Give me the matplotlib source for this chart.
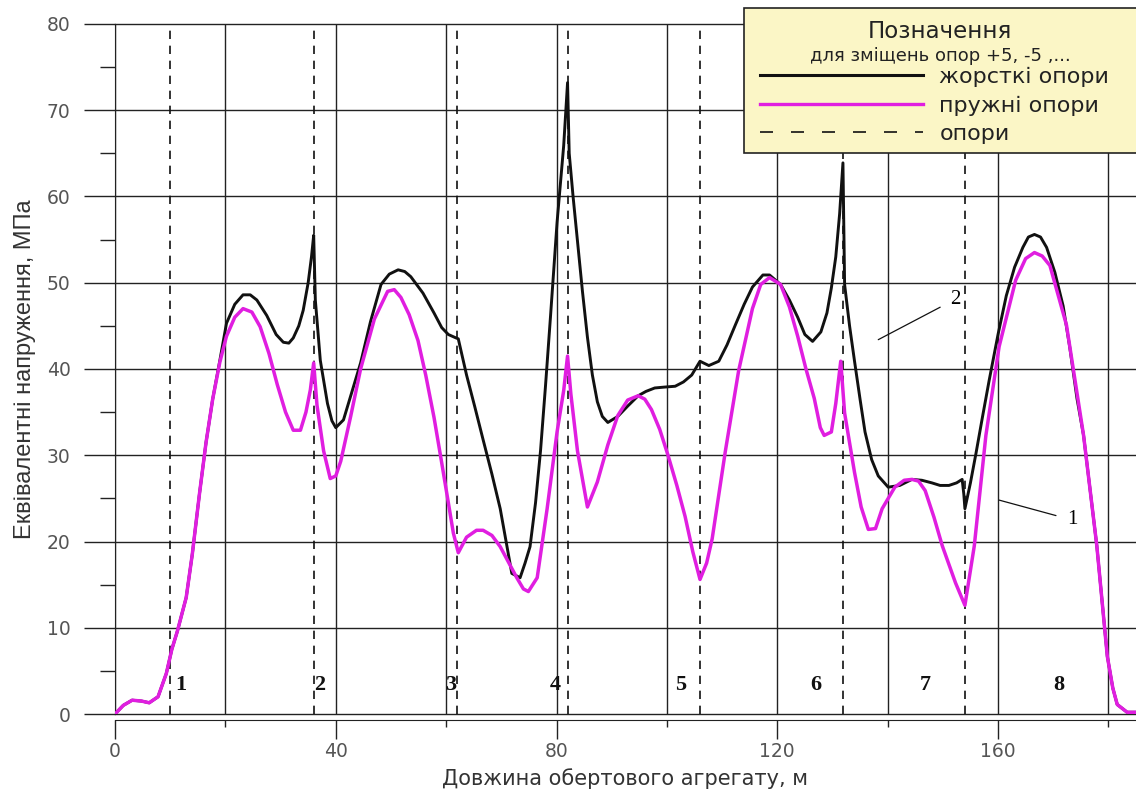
import matplotlib
matplotlib.use('Agg')
import matplotlib.pyplot as plt
from matplotlib.lines import Line2D
from matplotlib.patches import Rectangle

# пружні опори (рожева крива)
x_elastic = [0, 1.5, 3.1, 4.8, 6.2, 7.8, 9.3, 10.3, 11.3, 12.9, 14.0, 15.3, 16.5, 17.7, 19.0,
             20.2, 21.7, 23.2, 24.8, 26.3, 27.9, 29.4, 30.9, 32.3, 33.6, 34.6, 35.4, 36.0, 36.6,
             37.8, 39.0, 40.0, 40.9, 42.7, 44.5, 47.0, 49.4, 50.6, 51.8, 53.3, 54.9, 56.3, 57.8,
             59.1, 60.4, 61.3, 62.2, 63.7, 65.5, 66.7, 68.3, 69.8, 71.3, 72.8, 74.0, 74.9, 76.5,
             78.3, 80.1, 81.3, 82.0, 82.6, 83.8, 85.6, 87.4, 89.3, 91.1, 92.9, 94.8, 96.0, 97.2,
             98.7, 100.2, 101.8, 103.3, 104.7, 106.0, 107.2, 108.2, 110.6, 113.0, 115.5, 117.0,
             118.6, 120.6, 122.2, 123.7, 125.2, 126.7, 127.8, 128.5, 129.8, 130.6, 131.5, 132.2,
             134.0, 135.2, 136.5, 137.8, 139.0, 141.3, 143.0, 144.4, 145.6, 146.8, 148.4, 149.9,
             152.3, 154.0, 155.7, 157.8, 160.2, 163.2, 165.0, 166.6, 168.0, 169.4, 172.4, 175.5,
             177.9, 179.8, 180.8, 181.6, 183.4, 185.0]
y_elastic = [0, 1.0, 1.6, 1.5, 1.3, 2.0, 4.7, 7.5, 9.6, 13.5, 18.5, 25.5, 31.5, 36.5, 40.8,
             43.8, 46.0, 47.0, 46.6, 44.9, 41.8, 38.2, 35.0, 32.9, 32.9, 35.0, 37.6, 40.7, 35.8,
             30.5, 27.3, 27.6, 29.3, 34.5, 40.0, 45.8, 49.0, 49.2, 48.3, 46.3, 43.3, 39.3, 34.4,
             29.5, 24.5, 21.0, 18.7, 20.5, 21.3, 21.3, 20.7, 19.4, 17.6, 15.8, 14.5, 14.2, 15.8,
             23.8, 32.7, 37.5, 41.5, 37.1, 30.5, 24.0, 26.9, 31.2, 34.6, 36.4, 36.9, 36.5, 35.3,
             33.0, 30.0, 26.5, 22.9, 18.8, 15.6, 17.5, 20.3, 30.5, 39.8, 47.0, 49.8,
             50.6, 49.8, 47.2, 43.8, 40.0, 36.6, 33.2, 32.3, 32.7, 36.0, 40.9, 34.9,
             28.0, 24.0, 21.4, 21.5, 23.8, 26.3, 27.1, 27.2, 27.0, 25.9, 22.8, 19.5,
             15.2, 12.6, 19.5, 32.3, 42.6, 50.3, 52.8, 53.5, 53.1, 52.0, 45.1, 32.3,
             19.5, 6.7, 3.0, 1.1, 0.2, 0.2]

# жорсткі опори (чорна крива)
x_rigid = [0, 1.5, 3.1, 4.8, 6.2, 7.8, 9.3, 10.3, 11.3, 12.9, 14.0, 15.3, 16.5, 17.7, 19.0,
           20.2, 21.7, 23.2, 24.5, 25.7, 27.5, 29.2, 30.5, 31.5, 32.3, 33.3, 34.1, 35.0, 35.6,
           36.0, 36.3, 37.2, 38.5, 39.3, 40.0, 41.4, 43.0, 44.5, 46.3, 48.2, 49.7, 51.3, 52.5,
           53.6, 55.8, 57.8, 59.2, 60.4, 61.8, 62.2, 63.7, 65.2, 66.7, 68.3, 69.8, 71.0, 71.9,
           73.4, 74.3, 75.2, 76.2, 77.1, 78.0, 78.9, 80.1, 81.3, 82.0, 82.3, 83.0, 83.8, 84.7,
           85.6, 86.5, 87.4, 88.3, 89.3, 91.1, 92.9, 94.8, 96.2, 97.8, 99.5, 101.5, 103.0, 104.5,
           106.0, 107.6, 109.4, 110.9, 112.4, 114.0, 115.5, 117.4, 118.6, 120.6, 122.2, 123.7,
           125.0, 126.4, 127.9, 129.0, 129.8, 130.6, 131.3, 131.9, 132.2, 133.1, 134.0, 135.0,
           135.9, 137.1, 138.3, 140.1, 142.2, 144.4, 146.2, 148.0, 149.5, 151.1, 152.5, 153.5,
           153.8, 154.0, 155.0, 156.0, 157.2, 158.4, 160.0, 161.5, 163.0, 164.5, 165.5, 166.6,
           167.7, 168.8, 170.3, 171.8, 173.0, 174.3, 175.5, 177.9, 179.8, 180.8, 181.6, 183.4, 185.0]
y_rigid = [0, 1.0, 1.6, 1.5, 1.3, 2.0, 4.7, 7.5, 9.6, 13.5, 18.5, 25.5, 31.5, 36.5, 41.0,
           45.3, 47.5, 48.6, 48.6, 48.0, 46.2, 44.0, 43.1, 43.0, 43.6, 45.0, 46.8, 50.0, 53.0,
           55.5, 48.0, 41.0, 36.0, 34.0, 33.2, 34.1, 37.5, 40.7, 45.5, 49.8, 51.0, 51.5, 51.3,
           50.7, 48.8, 46.5, 44.8, 44.0, 43.6, 43.5, 39.3, 35.6, 31.8, 27.8, 23.8, 19.5, 16.3,
           15.8, 17.5, 19.4, 24.5, 30.5, 38.0, 46.0, 57.0, 65.9, 73.2, 65.0, 60.0, 54.8, 49.0,
           43.7, 39.3, 36.2, 34.5, 33.8, 34.5, 35.7, 36.9, 37.4, 37.8, 37.9, 38.0, 38.5, 39.3,
           40.9, 40.4, 40.9, 42.8, 45.1, 47.5, 49.5, 50.9, 50.9, 49.8, 48.0, 46.0,
           44.0, 43.2, 44.3, 46.5, 49.4, 53.0, 58.0, 63.9, 49.8, 45.0, 40.9, 36.5,
           32.7, 29.5, 27.6, 26.3, 26.5, 27.2, 27.1, 26.8, 26.5, 26.5, 26.8, 27.2,
           25.5, 23.8, 26.8, 30.2, 34.5, 38.7, 44.0, 48.5, 51.8, 54.1, 55.3, 55.6,
           55.3, 54.1, 51.2, 47.3, 42.5, 36.6, 32.3, 19.5, 6.7, 3.0, 1.1, 0.2, 0.2]

supports = [10, 36, 62, 82, 106, 132, 154]
span_labels = ['1', '2', '3', '4', '5', '6', '7', '8']
span_x = [12, 37, 60.8, 79.8, 102.4, 127, 146.8, 171]

black = '#111111'
pink = '#e01ee0'
sans = ['DejaVu Sans']

fig = plt.figure(figsize=(11.36, 7.89), dpi=100)
ax = fig.add_axes([115 / 1136, 75 / 789, 1021 / 1136, 690 / 789])

ax.set_xlim(0, 185)
ax.set_ylim(0, 80)

ax.set_xticks([0, 40, 80, 120, 160])
ax.set_xticks([20, 60, 100, 140, 180], minor=True)
ax.set_yticks(range(0, 81, 10))
ax.set_yticks(range(5, 80, 10), minor=True)

ax.grid(which='major', color='#222222', lw=1.0)
ax.grid(which='minor', axis='x', color='#222222', lw=1.0)
ax.set_axisbelow(True)
for gl in ax.get_ygridlines() + ax.get_xgridlines():
    gl.set_clip_on(False)

for s in ['top', 'right']:
    ax.spines[s].set_visible(False)
ax.spines['left'].set_color('#222222')
ax.spines['bottom'].set_color('#222222')
ax.spines['bottom'].set_position(('outward', 4))

ax.tick_params(axis='y', which='major', direction='out', length=22, width=1.0,
               pad=10, labelsize=13.5, labelcolor='#555555', color='#222222')
ax.tick_params(axis='y', which='minor', direction='out', length=11, width=1.0, color='#222222')
ax.tick_params(axis='x', which='major', direction='out', length=14, width=1.0,
               pad=2, labelsize=13.5, labelcolor='#555555', color='#222222')
ax.tick_params(axis='x', which='minor', direction='out', length=5, width=1.0, color='#222222')
for lab in ax.get_xticklabels() + ax.get_yticklabels():
    lab.set_fontfamily(sans)

for xs in supports:
    ax.axvline(xs, color=black, lw=1.2, ls=(0, (5, 4)), zorder=2)

ax.plot(x_rigid, y_rigid, color=black, lw=2.1, zorder=3, solid_joinstyle='round')
ax.plot(x_elastic, y_elastic, color=pink, lw=2.5, zorder=4, solid_joinstyle='round')

for lab, xs in zip(span_labels, span_x):
    ax.text(xs, 3.4, lab, ha='center', va='center', fontsize=16, fontweight='bold',
            family='Liberation Serif', color=black, zorder=5)

ax.annotate('2', xy=(138.3, 43.4), xytext=(152.3, 48.1), ha='center', va='center',
            fontsize=15, family='Liberation Serif',
            arrowprops=dict(arrowstyle='-', lw=0.9, color=black, shrinkA=6, shrinkB=0))
ax.annotate('1', xy=(160.2, 24.8), xytext=(173.4, 22.5), ha='center', va='center',
            fontsize=15, family='Liberation Serif',
            arrowprops=dict(arrowstyle='-', lw=0.9, color=black, shrinkA=6, shrinkB=0))

ax.set_xlabel('Довжина обертового агрегату, м', fontsize=15, family=sans,
              color='#333333', labelpad=5)
ax.set_ylabel('Еквівалентні напруження, МПа', fontsize=17,
              family='Liberation Sans', color='#333333', labelpad=8)

# легенда
box = Rectangle((744 / 1136, (789 - 153) / 789), 0.4, 145 / 789, transform=fig.transFigure,
                facecolor='#fbf6c6', edgecolor='#222222', lw=1.2, zorder=10)
fig.patches.append(box)
fig.text(940 / 1136, (789 - 32) / 789, 'Позначення', ha='center', va='center', fontsize=16.5,
         family=sans, color='#222222', zorder=11)
fig.text(940 / 1136, (789 - 56) / 789, 'для зміщень опор +5, -5 ,...', ha='center', va='center',
         fontsize=13, family=sans, color='#222222', zorder=11)
handles = [Line2D([], [], color=black, lw=2.2),
           Line2D([], [], color=pink, lw=2.4),
           Line2D([], [], color=black, lw=1.2, ls=(0, (7.8, 10.8)))]
labels = ['жорсткі опори', 'пружні опори', 'опори']
leg = fig.legend(handles, labels, loc='upper left', bbox_to_anchor=(760 / 1136, (789 - 67) / 789),
                 frameon=False, borderpad=0, borderaxespad=0, handlelength=7.35,
                 handletextpad=0.72, labelspacing=0.38,
                 prop={'family': sans, 'size': 16})
leg.set_zorder(12)
for t in leg.get_texts():
    t.set_color('#222222')

fig.savefig('out.png', dpi=100)
